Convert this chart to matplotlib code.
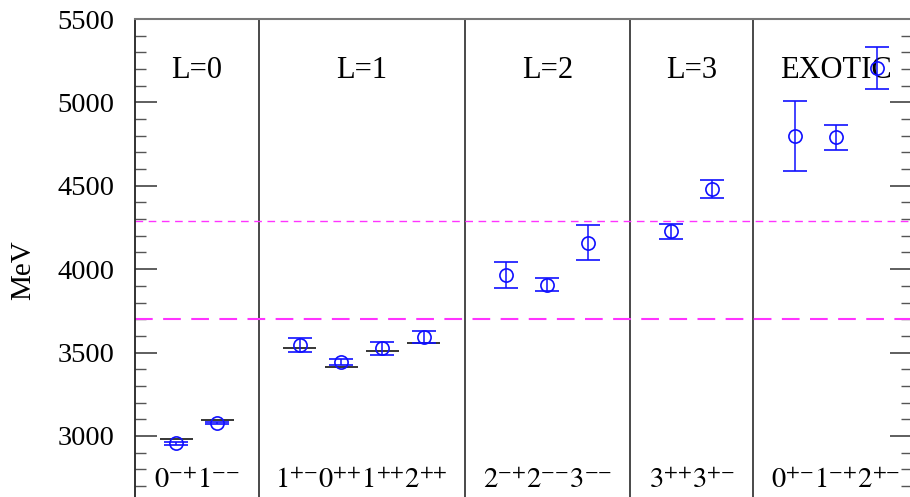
import matplotlib
matplotlib.use("Agg")
import matplotlib.pyplot as plt
from matplotlib.ticker import MultipleLocator

plt.rcParams['font.family'] = ['Liberation Serif', 'DejaVu Serif']
plt.rcParams['mathtext.fontset'] = 'stix'

# positions of the states along the x axis
x_pos = [1, 2, 4, 5, 6, 7, 9, 10, 11, 13, 14, 16, 17, 18]
# lattice masses (MeV) and errors
mass = [2956, 3080, 3548, 3444, 3526, 3595, 3965, 3907, 4158, 4227, 4480, 4798, 4790, 5204]
err = [8, 6, 42, 18, 40, 36, 76, 38, 105, 44, 56, 208, 73, 126]
# experimental masses (MeV) for known states
exp_x = [1, 2, 4, 5, 6, 7]
exp_mass = [2980, 3097, 3526, 3415, 3511, 3556]

# section dividers and labels
dividers = [3, 8, 12, 15]
sec_x = [1.5, 5.5, 10, 13.5, 17]
sec_labels = ['L=0', 'L=1', 'L=2', 'L=3', 'EXOTIC']
jpc_labels = [r'$0^{{-}{+}}1^{{-}{-}}$',
              r'$1^{{+}{-}}0^{{+}{+}}1^{{+}{+}}2^{{+}{+}}$',
              r'$2^{{-}{+}}2^{{-}{-}}3^{{-}{-}}$',
              r'$3^{{+}{+}}3^{{+}{-}}$',
              r'$0^{{+}{-}}1^{{-}{+}}2^{{+}{-}}$']
thresholds = [3700, 4290]

fig = plt.figure(figsize=(9.10, 4.97), dpi=100)
ax = fig.add_axes([135/910, 0, (912-135)/910, 1 - 19/497])

ax.set_xlim(0, 18.85)
ax.set_ylim(2634, 5500)

for d in dividers:
    ax.axvline(d, color='#3a3a3a', lw=1.3, zorder=1)

ax.axhline(thresholds[0], color='#ff33ff', lw=1.5, dashes=(8.5, 5), zorder=2)
ax.axhline(thresholds[1], color='#ff33ff', lw=1.0, dashes=(5.5, 4), zorder=2)

ax.hlines(exp_mass, [x - 0.4 for x in exp_x], [x + 0.4 for x in exp_x],
          color='black', lw=1.1, zorder=3)

ax.errorbar(x_pos, mass, yerr=err, fmt='o', mfc='none', mec='#1010ff', ms=9.5,
            mew=1.2, ecolor='#1010ff', elinewidth=1.1, capsize=8.5, capthick=1.1, zorder=4)

for xs, lab in zip(sec_x, sec_labels):
    ax.text(xs, 5146, lab, ha='center', va='baseline', fontsize=22)
for xs, lab in zip(sec_x, jpc_labels):
    ax.text(xs, 2688, lab, ha='center', va='baseline', fontsize=20.5)

ax.set_xticks([])
ax.yaxis.set_major_locator(MultipleLocator(500))
ax.yaxis.set_minor_locator(MultipleLocator(100))
ax.tick_params(axis='y', which='major', direction='in', length=16, width=1.1,
               right=True, labelsize=20.5, pad=15, color='#333333')
ax.tick_params(axis='y', which='minor', direction='in', length=8, width=1.0,
               right=True, color='#555555')
for lab in ax.get_yticklabels():
    lab.set_fontfamily(['Liberation Serif'])

ax.spines['left'].set_color('#222222')
ax.spines['left'].set_linewidth(1.3)
ax.spines['top'].set_color('#777777')
ax.spines['top'].set_linewidth(1.5)
ax.spines['right'].set_visible(False)
ax.spines['bottom'].set_visible(False)

fig.text(23/910, 1 - 270/497, 'MeV', rotation=90, ha='center', va='center', fontsize=21)

fig.savefig('out.png', dpi=100)
